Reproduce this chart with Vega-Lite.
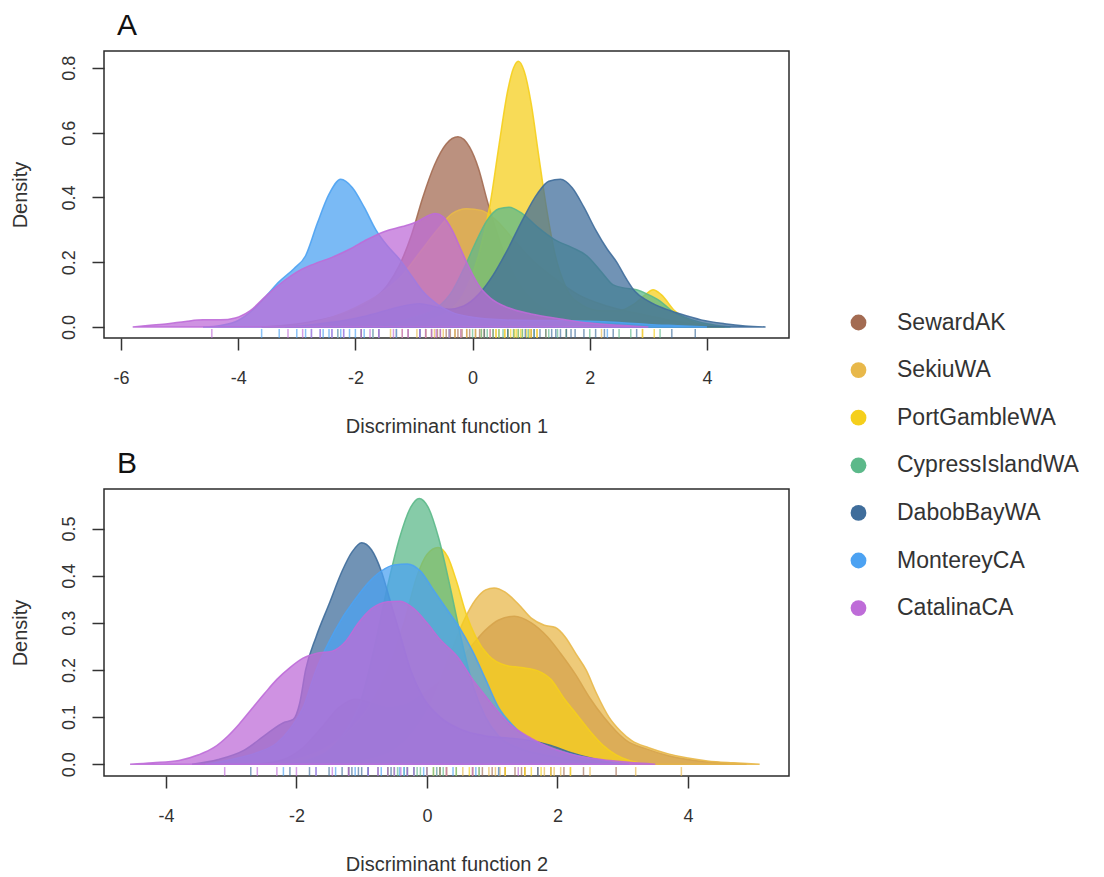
{
  "$schema": "https://vega.github.io/schema/vega-lite/v6.json",
  "padding": {"left": 9, "top": 10, "right": 0, "bottom": 0},
  "background": "white",
  "config": {
    "font": "Liberation Sans",
    "view": {"stroke": "#2b2b2b", "strokeWidth": 1.5},
    "axis": {
      "domain": false, "grid": false, "tickSize": 12, "tickColor": "#333333", "tickWidth": 1.5,
      "labelFontSize": 18, "labelColor": "#333333", "titleFontSize": 20, "titleFontWeight": "normal", "titleColor": "#333333"
    },
    "axisX": {"labelPadding": 19, "titlePadding": 29, "labelExpr": "'' + datum.value"},
    "axisY": {"labelAngle": -90, "labelPadding": 14, "titlePadding": 30},
    "title": {"fontSize": 30, "fontWeight": "normal", "color": "#111111", "anchor": "start", "frame": "group", "offset": 10, "dx": 13}
  },
  "datasets": {
    "densA": [
      {"group":"SewardAK","x":-3.6,"density":0},{"group":"SewardAK","x":-3.2,"density":0.005},{"group":"SewardAK","x":-2.8,"density":0.015},{"group":"SewardAK","x":-2.4,"density":0.03},{"group":"SewardAK","x":-2.0,"density":0.055},{"group":"SewardAK","x":-1.7,"density":0.085},{"group":"SewardAK","x":-1.45,"density":0.13},{"group":"SewardAK","x":-1.25,"density":0.19},{"group":"SewardAK","x":-1.05,"density":0.28},{"group":"SewardAK","x":-0.85,"density":0.4},{"group":"SewardAK","x":-0.65,"density":0.5},{"group":"SewardAK","x":-0.45,"density":0.565},{"group":"SewardAK","x":-0.25,"density":0.587},{"group":"SewardAK","x":-0.05,"density":0.555},{"group":"SewardAK","x":0.1,"density":0.49},{"group":"SewardAK","x":0.25,"density":0.39},{"group":"SewardAK","x":0.4,"density":0.3},{"group":"SewardAK","x":0.6,"density":0.2},{"group":"SewardAK","x":0.8,"density":0.13},{"group":"SewardAK","x":1.0,"density":0.085},{"group":"SewardAK","x":1.3,"density":0.05},{"group":"SewardAK","x":1.7,"density":0.03},{"group":"SewardAK","x":2.1,"density":0.015},{"group":"SewardAK","x":2.6,"density":0.005},{"group":"SewardAK","x":3.1,"density":0},

      {"group":"SekiuWA","x":-3.2,"density":0},{"group":"SekiuWA","x":-2.8,"density":0.01},{"group":"SekiuWA","x":-2.4,"density":0.03},{"group":"SekiuWA","x":-2.0,"density":0.06},{"group":"SekiuWA","x":-1.6,"density":0.1},{"group":"SekiuWA","x":-1.2,"density":0.16},{"group":"SekiuWA","x":-0.9,"density":0.23},{"group":"SekiuWA","x":-0.6,"density":0.3},{"group":"SekiuWA","x":-0.35,"density":0.35},{"group":"SekiuWA","x":-0.1,"density":0.365},{"group":"SekiuWA","x":0.15,"density":0.36},{"group":"SekiuWA","x":0.4,"density":0.33},{"group":"SekiuWA","x":0.7,"density":0.27},{"group":"SekiuWA","x":1.0,"density":0.21},{"group":"SekiuWA","x":1.4,"density":0.15},{"group":"SekiuWA","x":1.8,"density":0.1},{"group":"SekiuWA","x":2.2,"density":0.07},{"group":"SekiuWA","x":2.6,"density":0.05},{"group":"SekiuWA","x":3.0,"density":0.035},{"group":"SekiuWA","x":3.4,"density":0.02},{"group":"SekiuWA","x":3.8,"density":0.008},{"group":"SekiuWA","x":4.3,"density":0},

      {"group":"PortGambleWA","x":-1.6,"density":0},{"group":"PortGambleWA","x":-1.2,"density":0.01},{"group":"PortGambleWA","x":-0.8,"density":0.02},{"group":"PortGambleWA","x":-0.4,"density":0.05},{"group":"PortGambleWA","x":-0.1,"density":0.12},{"group":"PortGambleWA","x":0.1,"density":0.22},{"group":"PortGambleWA","x":0.3,"density":0.38},{"group":"PortGambleWA","x":0.45,"density":0.56},{"group":"PortGambleWA","x":0.6,"density":0.73},{"group":"PortGambleWA","x":0.7,"density":0.8},{"group":"PortGambleWA","x":0.78,"density":0.82},{"group":"PortGambleWA","x":0.88,"density":0.79},{"group":"PortGambleWA","x":1.0,"density":0.69},{"group":"PortGambleWA","x":1.12,"density":0.54},{"group":"PortGambleWA","x":1.25,"density":0.38},{"group":"PortGambleWA","x":1.4,"density":0.23},{"group":"PortGambleWA","x":1.6,"density":0.12},{"group":"PortGambleWA","x":1.85,"density":0.07},{"group":"PortGambleWA","x":2.2,"density":0.05},{"group":"PortGambleWA","x":2.5,"density":0.05},{"group":"PortGambleWA","x":2.75,"density":0.07},{"group":"PortGambleWA","x":2.95,"density":0.1},{"group":"PortGambleWA","x":3.08,"density":0.115},{"group":"PortGambleWA","x":3.22,"density":0.1},{"group":"PortGambleWA","x":3.45,"density":0.05},{"group":"PortGambleWA","x":3.7,"density":0.02},{"group":"PortGambleWA","x":4.0,"density":0.005},{"group":"PortGambleWA","x":4.3,"density":0},

      {"group":"CypressIslandWA","x":-1.8,"density":0},{"group":"CypressIslandWA","x":-1.4,"density":0.01},{"group":"CypressIslandWA","x":-1.0,"density":0.03},{"group":"CypressIslandWA","x":-0.6,"density":0.06},{"group":"CypressIslandWA","x":-0.35,"density":0.11},{"group":"CypressIslandWA","x":-0.15,"density":0.18},{"group":"CypressIslandWA","x":0.05,"density":0.26},{"group":"CypressIslandWA","x":0.25,"density":0.33},{"group":"CypressIslandWA","x":0.45,"density":0.365},{"group":"CypressIslandWA","x":0.62,"density":0.37},{"group":"CypressIslandWA","x":0.85,"density":0.35},{"group":"CypressIslandWA","x":1.1,"density":0.31},{"group":"CypressIslandWA","x":1.4,"density":0.27},{"group":"CypressIslandWA","x":1.7,"density":0.245},{"group":"CypressIslandWA","x":1.95,"density":0.22},{"group":"CypressIslandWA","x":2.2,"density":0.17},{"group":"CypressIslandWA","x":2.4,"density":0.13},{"group":"CypressIslandWA","x":2.6,"density":0.12},{"group":"CypressIslandWA","x":2.8,"density":0.115},{"group":"CypressIslandWA","x":3.0,"density":0.1},{"group":"CypressIslandWA","x":3.2,"density":0.08},{"group":"CypressIslandWA","x":3.4,"density":0.05},{"group":"CypressIslandWA","x":3.7,"density":0.025},{"group":"CypressIslandWA","x":4.0,"density":0.01},{"group":"CypressIslandWA","x":4.4,"density":0},

      {"group":"DabobBayWA","x":-3.2,"density":0},{"group":"DabobBayWA","x":-2.7,"density":0.008},{"group":"DabobBayWA","x":-2.2,"density":0.02},{"group":"DabobBayWA","x":-1.8,"density":0.035},{"group":"DabobBayWA","x":-1.4,"density":0.055},{"group":"DabobBayWA","x":-1.1,"density":0.068},{"group":"DabobBayWA","x":-0.9,"density":0.072},{"group":"DabobBayWA","x":-0.65,"density":0.063},{"group":"DabobBayWA","x":-0.4,"density":0.055},{"group":"DabobBayWA","x":-0.15,"density":0.065},{"group":"DabobBayWA","x":0.1,"density":0.1},{"group":"DabobBayWA","x":0.35,"density":0.16},{"group":"DabobBayWA","x":0.6,"density":0.24},{"group":"DabobBayWA","x":0.85,"density":0.33},{"group":"DabobBayWA","x":1.1,"density":0.41},{"group":"DabobBayWA","x":1.3,"density":0.45},{"group":"DabobBayWA","x":1.5,"density":0.456},{"group":"DabobBayWA","x":1.7,"density":0.43},{"group":"DabobBayWA","x":1.9,"density":0.37},{"group":"DabobBayWA","x":2.1,"density":0.3},{"group":"DabobBayWA","x":2.3,"density":0.24},{"group":"DabobBayWA","x":2.46,"density":0.2},{"group":"DabobBayWA","x":2.62,"density":0.15},{"group":"DabobBayWA","x":2.77,"density":0.11},{"group":"DabobBayWA","x":3.0,"density":0.08},{"group":"DabobBayWA","x":3.3,"density":0.055},{"group":"DabobBayWA","x":3.55,"density":0.04},{"group":"DabobBayWA","x":3.9,"density":0.022},{"group":"DabobBayWA","x":4.3,"density":0.01},{"group":"DabobBayWA","x":4.65,"density":0.003},{"group":"DabobBayWA","x":5.0,"density":0},

      {"group":"MontereyCA","x":-4.6,"density":0},{"group":"MontereyCA","x":-4.3,"density":0.005},{"group":"MontereyCA","x":-4.0,"density":0.02},{"group":"MontereyCA","x":-3.8,"density":0.045},{"group":"MontereyCA","x":-3.55,"density":0.09},{"group":"MontereyCA","x":-3.3,"density":0.14},{"group":"MontereyCA","x":-3.05,"density":0.18},{"group":"MontereyCA","x":-2.85,"density":0.22},{"group":"MontereyCA","x":-2.65,"density":0.32},{"group":"MontereyCA","x":-2.45,"density":0.41},{"group":"MontereyCA","x":-2.25,"density":0.456},{"group":"MontereyCA","x":-2.05,"density":0.43},{"group":"MontereyCA","x":-1.85,"density":0.37},{"group":"MontereyCA","x":-1.65,"density":0.3},{"group":"MontereyCA","x":-1.45,"density":0.25},{"group":"MontereyCA","x":-1.25,"density":0.21},{"group":"MontereyCA","x":-1.05,"density":0.16},{"group":"MontereyCA","x":-0.85,"density":0.11},{"group":"MontereyCA","x":-0.6,"density":0.07},{"group":"MontereyCA","x":-0.35,"density":0.045},{"group":"MontereyCA","x":0.0,"density":0.03},{"group":"MontereyCA","x":0.5,"density":0.022},{"group":"MontereyCA","x":1.0,"density":0.02},{"group":"MontereyCA","x":1.5,"density":0.02},{"group":"MontereyCA","x":2.0,"density":0.018},{"group":"MontereyCA","x":2.5,"density":0.014},{"group":"MontereyCA","x":3.0,"density":0.008},{"group":"MontereyCA","x":3.5,"density":0.004},{"group":"MontereyCA","x":4.0,"density":0},

      {"group":"CatalinaCA","x":-5.8,"density":0},{"group":"CatalinaCA","x":-5.5,"density":0.005},{"group":"CatalinaCA","x":-5.2,"density":0.01},{"group":"CatalinaCA","x":-4.9,"density":0.017},{"group":"CatalinaCA","x":-4.6,"density":0.022},{"group":"CatalinaCA","x":-4.3,"density":0.022},{"group":"CatalinaCA","x":-4.05,"density":0.028},{"group":"CatalinaCA","x":-3.8,"density":0.05},{"group":"CatalinaCA","x":-3.5,"density":0.1},{"group":"CatalinaCA","x":-3.2,"density":0.145},{"group":"CatalinaCA","x":-2.95,"density":0.175},{"group":"CatalinaCA","x":-2.7,"density":0.195},{"group":"CatalinaCA","x":-2.4,"density":0.215},{"group":"CatalinaCA","x":-2.1,"density":0.24},{"group":"CatalinaCA","x":-1.8,"density":0.27},{"group":"CatalinaCA","x":-1.5,"density":0.295},{"group":"CatalinaCA","x":-1.2,"density":0.31},{"group":"CatalinaCA","x":-0.95,"density":0.325},{"group":"CatalinaCA","x":-0.8,"density":0.34},{"group":"CatalinaCA","x":-0.64,"density":0.35},{"group":"CatalinaCA","x":-0.5,"density":0.34},{"group":"CatalinaCA","x":-0.35,"density":0.3},{"group":"CatalinaCA","x":-0.2,"density":0.24},{"group":"CatalinaCA","x":-0.05,"density":0.18},{"group":"CatalinaCA","x":0.1,"density":0.13},{"group":"CatalinaCA","x":0.3,"density":0.09},{"group":"CatalinaCA","x":0.6,"density":0.06},{"group":"CatalinaCA","x":1.0,"density":0.04},{"group":"CatalinaCA","x":1.5,"density":0.025},{"group":"CatalinaCA","x":2.0,"density":0.012},{"group":"CatalinaCA","x":2.5,"density":0.005},{"group":"CatalinaCA","x":3.0,"density":0}
    ],
    "densB": [
      {"group":"SewardAK","x":-2.6,"density":0},{"group":"SewardAK","x":-2.2,"density":0.01},{"group":"SewardAK","x":-1.9,"density":0.035},{"group":"SewardAK","x":-1.6,"density":0.08},{"group":"SewardAK","x":-1.35,"density":0.12},{"group":"SewardAK","x":-1.1,"density":0.138},{"group":"SewardAK","x":-0.85,"density":0.13},{"group":"SewardAK","x":-0.6,"density":0.12},{"group":"SewardAK","x":-0.35,"density":0.125},{"group":"SewardAK","x":-0.1,"density":0.145},{"group":"SewardAK","x":0.15,"density":0.17},{"group":"SewardAK","x":0.4,"density":0.2},{"group":"SewardAK","x":0.65,"density":0.245},{"group":"SewardAK","x":0.9,"density":0.285},{"group":"SewardAK","x":1.1,"density":0.306},{"group":"SewardAK","x":1.34,"density":0.314},{"group":"SewardAK","x":1.6,"density":0.3},{"group":"SewardAK","x":1.85,"density":0.27},{"group":"SewardAK","x":2.05,"density":0.235},{"group":"SewardAK","x":2.28,"density":0.19},{"group":"SewardAK","x":2.5,"density":0.14},{"group":"SewardAK","x":2.71,"density":0.1},{"group":"SewardAK","x":2.9,"density":0.07},{"group":"SewardAK","x":3.06,"density":0.05},{"group":"SewardAK","x":3.35,"density":0.033},{"group":"SewardAK","x":3.7,"density":0.018},{"group":"SewardAK","x":4.1,"density":0.008},{"group":"SewardAK","x":4.5,"density":0.003},{"group":"SewardAK","x":4.9,"density":0},

      {"group":"SekiuWA","x":-1.3,"density":0},{"group":"SekiuWA","x":-0.9,"density":0.01},{"group":"SekiuWA","x":-0.5,"density":0.03},{"group":"SekiuWA","x":-0.2,"density":0.07},{"group":"SekiuWA","x":0.1,"density":0.14},{"group":"SekiuWA","x":0.35,"density":0.23},{"group":"SekiuWA","x":0.55,"density":0.3},{"group":"SekiuWA","x":0.75,"density":0.35},{"group":"SekiuWA","x":0.9,"density":0.37},{"group":"SekiuWA","x":1.03,"density":0.374},{"group":"SekiuWA","x":1.2,"density":0.365},{"group":"SekiuWA","x":1.4,"density":0.34},{"group":"SekiuWA","x":1.6,"density":0.31},{"group":"SekiuWA","x":1.8,"density":0.295},{"group":"SekiuWA","x":1.97,"density":0.29},{"group":"SekiuWA","x":2.12,"density":0.27},{"group":"SekiuWA","x":2.28,"density":0.235},{"group":"SekiuWA","x":2.44,"density":0.2},{"group":"SekiuWA","x":2.6,"density":0.15},{"group":"SekiuWA","x":2.79,"density":0.1},{"group":"SekiuWA","x":2.97,"density":0.07},{"group":"SekiuWA","x":3.14,"density":0.05},{"group":"SekiuWA","x":3.4,"density":0.035},{"group":"SekiuWA","x":3.7,"density":0.022},{"group":"SekiuWA","x":4.0,"density":0.013},{"group":"SekiuWA","x":4.3,"density":0.007},{"group":"SekiuWA","x":4.7,"density":0.003},{"group":"SekiuWA","x":5.1,"density":0},

      {"group":"PortGambleWA","x":-2.4,"density":0},{"group":"PortGambleWA","x":-2.0,"density":0.01},{"group":"PortGambleWA","x":-1.6,"density":0.03},{"group":"PortGambleWA","x":-1.2,"density":0.07},{"group":"PortGambleWA","x":-0.9,"density":0.12},{"group":"PortGambleWA","x":-0.6,"density":0.2},{"group":"PortGambleWA","x":-0.35,"density":0.3},{"group":"PortGambleWA","x":-0.15,"density":0.4},{"group":"PortGambleWA","x":0.0,"density":0.445},{"group":"PortGambleWA","x":0.17,"density":0.46},{"group":"PortGambleWA","x":0.32,"density":0.44},{"group":"PortGambleWA","x":0.45,"density":0.39},{"group":"PortGambleWA","x":0.6,"density":0.32},{"group":"PortGambleWA","x":0.75,"density":0.27},{"group":"PortGambleWA","x":0.95,"density":0.23},{"group":"PortGambleWA","x":1.2,"density":0.21},{"group":"PortGambleWA","x":1.45,"density":0.205},{"group":"PortGambleWA","x":1.7,"density":0.198},{"group":"PortGambleWA","x":1.9,"density":0.18},{"group":"PortGambleWA","x":2.1,"density":0.14},{"group":"PortGambleWA","x":2.3,"density":0.105},{"group":"PortGambleWA","x":2.5,"density":0.07},{"group":"PortGambleWA","x":2.7,"density":0.04},{"group":"PortGambleWA","x":2.9,"density":0.02},{"group":"PortGambleWA","x":3.1,"density":0.008},{"group":"PortGambleWA","x":3.4,"density":0},

      {"group":"CypressIslandWA","x":-2.2,"density":0},{"group":"CypressIslandWA","x":-1.8,"density":0.01},{"group":"CypressIslandWA","x":-1.5,"density":0.03},{"group":"CypressIslandWA","x":-1.25,"density":0.07},{"group":"CypressIslandWA","x":-1.0,"density":0.14},{"group":"CypressIslandWA","x":-0.8,"density":0.25},{"group":"CypressIslandWA","x":-0.6,"density":0.38},{"group":"CypressIslandWA","x":-0.42,"density":0.48},{"group":"CypressIslandWA","x":-0.25,"density":0.545},{"group":"CypressIslandWA","x":-0.12,"density":0.564},{"group":"CypressIslandWA","x":0.02,"density":0.545},{"group":"CypressIslandWA","x":0.18,"density":0.48},{"group":"CypressIslandWA","x":0.35,"density":0.38},{"group":"CypressIslandWA","x":0.52,"density":0.27},{"group":"CypressIslandWA","x":0.7,"density":0.17},{"group":"CypressIslandWA","x":0.9,"density":0.1},{"group":"CypressIslandWA","x":1.1,"density":0.06},{"group":"CypressIslandWA","x":1.4,"density":0.035},{"group":"CypressIslandWA","x":1.8,"density":0.02},{"group":"CypressIslandWA","x":2.2,"density":0.01},{"group":"CypressIslandWA","x":2.7,"density":0},

      {"group":"DabobBayWA","x":-3.6,"density":0},{"group":"DabobBayWA","x":-3.2,"density":0.01},{"group":"DabobBayWA","x":-2.8,"density":0.03},{"group":"DabobBayWA","x":-2.45,"density":0.065},{"group":"DabobBayWA","x":-2.2,"density":0.088},{"group":"DabobBayWA","x":-2.05,"density":0.095},{"group":"DabobBayWA","x":-1.95,"density":0.13},{"group":"DabobBayWA","x":-1.86,"density":0.2},{"group":"DabobBayWA","x":-1.7,"density":0.27},{"group":"DabobBayWA","x":-1.5,"density":0.34},{"group":"DabobBayWA","x":-1.3,"density":0.41},{"group":"DabobBayWA","x":-1.15,"density":0.45},{"group":"DabobBayWA","x":-1.0,"density":0.47},{"group":"DabobBayWA","x":-0.85,"density":0.455},{"group":"DabobBayWA","x":-0.7,"density":0.41},{"group":"DabobBayWA","x":-0.55,"density":0.34},{"group":"DabobBayWA","x":-0.4,"density":0.27},{"group":"DabobBayWA","x":-0.25,"density":0.2},{"group":"DabobBayWA","x":-0.05,"density":0.14},{"group":"DabobBayWA","x":0.2,"density":0.1},{"group":"DabobBayWA","x":0.5,"density":0.075},{"group":"DabobBayWA","x":0.9,"density":0.06},{"group":"DabobBayWA","x":1.3,"density":0.055},{"group":"DabobBayWA","x":1.6,"density":0.05},{"group":"DabobBayWA","x":1.9,"density":0.04},{"group":"DabobBayWA","x":2.2,"density":0.025},{"group":"DabobBayWA","x":2.6,"density":0.01},{"group":"DabobBayWA","x":3.0,"density":0},

      {"group":"MontereyCA","x":-3.4,"density":0},{"group":"MontereyCA","x":-3.0,"density":0.01},{"group":"MontereyCA","x":-2.6,"density":0.025},{"group":"MontereyCA","x":-2.3,"density":0.045},{"group":"MontereyCA","x":-2.1,"density":0.075},{"group":"MontereyCA","x":-1.9,"density":0.12},{"group":"MontereyCA","x":-1.7,"density":0.2},{"group":"MontereyCA","x":-1.5,"density":0.26},{"group":"MontereyCA","x":-1.3,"density":0.31},{"group":"MontereyCA","x":-1.1,"density":0.35},{"group":"MontereyCA","x":-0.9,"density":0.385},{"group":"MontereyCA","x":-0.7,"density":0.41},{"group":"MontereyCA","x":-0.5,"density":0.423},{"group":"MontereyCA","x":-0.3,"density":0.425},{"group":"MontereyCA","x":-0.1,"density":0.41},{"group":"MontereyCA","x":0.1,"density":0.37},{"group":"MontereyCA","x":0.3,"density":0.33},{"group":"MontereyCA","x":0.5,"density":0.29},{"group":"MontereyCA","x":0.7,"density":0.24},{"group":"MontereyCA","x":0.9,"density":0.18},{"group":"MontereyCA","x":1.1,"density":0.12},{"group":"MontereyCA","x":1.3,"density":0.085},{"group":"MontereyCA","x":1.5,"density":0.06},{"group":"MontereyCA","x":1.8,"density":0.04},{"group":"MontereyCA","x":2.2,"density":0.022},{"group":"MontereyCA","x":2.6,"density":0.01},{"group":"MontereyCA","x":3.1,"density":0},

      {"group":"CatalinaCA","x":-4.55,"density":0},{"group":"CatalinaCA","x":-4.2,"density":0.003},{"group":"CatalinaCA","x":-3.8,"density":0.008},{"group":"CatalinaCA","x":-3.5,"density":0.02},{"group":"CatalinaCA","x":-3.27,"density":0.035},{"group":"CatalinaCA","x":-3.05,"density":0.06},{"group":"CatalinaCA","x":-2.88,"density":0.085},{"group":"CatalinaCA","x":-2.7,"density":0.115},{"group":"CatalinaCA","x":-2.49,"density":0.15},{"group":"CatalinaCA","x":-2.3,"density":0.18},{"group":"CatalinaCA","x":-2.1,"density":0.205},{"group":"CatalinaCA","x":-1.9,"density":0.225},{"group":"CatalinaCA","x":-1.7,"density":0.235},{"group":"CatalinaCA","x":-1.45,"density":0.24},{"group":"CatalinaCA","x":-1.25,"density":0.26},{"group":"CatalinaCA","x":-1.05,"density":0.3},{"group":"CatalinaCA","x":-0.85,"density":0.33},{"group":"CatalinaCA","x":-0.6,"density":0.345},{"group":"CatalinaCA","x":-0.41,"density":0.346},{"group":"CatalinaCA","x":-0.2,"density":0.33},{"group":"CatalinaCA","x":0.0,"density":0.3},{"group":"CatalinaCA","x":0.2,"density":0.265},{"group":"CatalinaCA","x":0.48,"density":0.226},{"group":"CatalinaCA","x":0.7,"density":0.18},{"group":"CatalinaCA","x":0.88,"density":0.148},{"group":"CatalinaCA","x":1.1,"density":0.11},{"group":"CatalinaCA","x":1.27,"density":0.085},{"group":"CatalinaCA","x":1.6,"density":0.055},{"group":"CatalinaCA","x":1.9,"density":0.035},{"group":"CatalinaCA","x":2.3,"density":0.018},{"group":"CatalinaCA","x":2.67,"density":0.01},{"group":"CatalinaCA","x":3.1,"density":0.004},{"group":"CatalinaCA","x":3.5,"density":0}
    ],
    "rugA": [
      {"group":"SewardAK","x":-1.6},{"group":"SewardAK","x":-1.3},{"group":"SewardAK","x":-1.1},{"group":"SewardAK","x":-0.9},{"group":"SewardAK","x":-0.8},{"group":"SewardAK","x":-0.7},{"group":"SewardAK","x":-0.6},{"group":"SewardAK","x":-0.55},{"group":"SewardAK","x":-0.45},{"group":"SewardAK","x":-0.38},{"group":"SewardAK","x":-0.3},{"group":"SewardAK","x":-0.25},{"group":"SewardAK","x":-0.18},{"group":"SewardAK","x":-0.1},{"group":"SewardAK","x":-0.05},{"group":"SewardAK","x":0.05},{"group":"SewardAK","x":0.12},{"group":"SewardAK","x":0.2},{"group":"SewardAK","x":0.35},{"group":"SewardAK","x":0.6},{"group":"SewardAK","x":1.0},
      {"group":"SekiuWA","x":-2.3},{"group":"SekiuWA","x":-1.9},{"group":"SekiuWA","x":-1.7},{"group":"SekiuWA","x":-1.4},{"group":"SekiuWA","x":-1.2},{"group":"SekiuWA","x":-0.95},{"group":"SekiuWA","x":-0.8},{"group":"SekiuWA","x":-0.65},{"group":"SekiuWA","x":-0.5},{"group":"SekiuWA","x":-0.3},{"group":"SekiuWA","x":-0.2},{"group":"SekiuWA","x":-0.1},{"group":"SekiuWA","x":0.05},{"group":"SekiuWA","x":0.15},{"group":"SekiuWA","x":0.2},{"group":"SekiuWA","x":0.4},{"group":"SekiuWA","x":0.55},{"group":"SekiuWA","x":0.7},{"group":"SekiuWA","x":1.1},{"group":"SekiuWA","x":1.6},{"group":"SekiuWA","x":2.2},{"group":"SekiuWA","x":2.9},
      {"group":"PortGambleWA","x":0.3},{"group":"PortGambleWA","x":0.4},{"group":"PortGambleWA","x":0.45},{"group":"PortGambleWA","x":0.55},{"group":"PortGambleWA","x":0.6},{"group":"PortGambleWA","x":0.65},{"group":"PortGambleWA","x":0.72},{"group":"PortGambleWA","x":0.75},{"group":"PortGambleWA","x":0.78},{"group":"PortGambleWA","x":0.82},{"group":"PortGambleWA","x":0.85},{"group":"PortGambleWA","x":0.92},{"group":"PortGambleWA","x":0.97},{"group":"PortGambleWA","x":1.0},{"group":"PortGambleWA","x":1.1},{"group":"PortGambleWA","x":1.25},{"group":"PortGambleWA","x":2.9},{"group":"PortGambleWA","x":3.1},
      {"group":"CypressIslandWA","x":-0.4},{"group":"CypressIslandWA","x":0.0},{"group":"CypressIslandWA","x":0.15},{"group":"CypressIslandWA","x":0.25},{"group":"CypressIslandWA","x":0.35},{"group":"CypressIslandWA","x":0.45},{"group":"CypressIslandWA","x":0.52},{"group":"CypressIslandWA","x":0.6},{"group":"CypressIslandWA","x":0.7},{"group":"CypressIslandWA","x":0.78},{"group":"CypressIslandWA","x":0.85},{"group":"CypressIslandWA","x":0.95},{"group":"CypressIslandWA","x":1.05},{"group":"CypressIslandWA","x":1.3},{"group":"CypressIslandWA","x":1.45},{"group":"CypressIslandWA","x":1.6},{"group":"CypressIslandWA","x":2.0},{"group":"CypressIslandWA","x":2.5},{"group":"CypressIslandWA","x":2.7},{"group":"CypressIslandWA","x":3.2},
      {"group":"DabobBayWA","x":-1.9},{"group":"DabobBayWA","x":-0.9},{"group":"DabobBayWA","x":0.2},{"group":"DabobBayWA","x":0.6},{"group":"DabobBayWA","x":0.9},{"group":"DabobBayWA","x":1.05},{"group":"DabobBayWA","x":1.15},{"group":"DabobBayWA","x":1.25},{"group":"DabobBayWA","x":1.35},{"group":"DabobBayWA","x":1.42},{"group":"DabobBayWA","x":1.5},{"group":"DabobBayWA","x":1.6},{"group":"DabobBayWA","x":1.68},{"group":"DabobBayWA","x":1.75},{"group":"DabobBayWA","x":1.9},{"group":"DabobBayWA","x":2.1},{"group":"DabobBayWA","x":2.25},{"group":"DabobBayWA","x":2.4},{"group":"DabobBayWA","x":2.8},{"group":"DabobBayWA","x":3.4},{"group":"DabobBayWA","x":3.8},
      {"group":"MontereyCA","x":-3.6},{"group":"MontereyCA","x":-3.3},{"group":"MontereyCA","x":-3.0},{"group":"MontereyCA","x":-2.85},{"group":"MontereyCA","x":-2.75},{"group":"MontereyCA","x":-2.6},{"group":"MontereyCA","x":-2.55},{"group":"MontereyCA","x":-2.45},{"group":"MontereyCA","x":-2.4},{"group":"MontereyCA","x":-2.3},{"group":"MontereyCA","x":-2.25},{"group":"MontereyCA","x":-2.2},{"group":"MontereyCA","x":-2.1},{"group":"MontereyCA","x":-2.0},{"group":"MontereyCA","x":-1.85},{"group":"MontereyCA","x":-1.7},{"group":"MontereyCA","x":-1.6},{"group":"MontereyCA","x":-1.3},{"group":"MontereyCA","x":-0.9},{"group":"MontereyCA","x":2.3},
      {"group":"CatalinaCA","x":-4.45},{"group":"CatalinaCA","x":-3.15},{"group":"CatalinaCA","x":-2.9},{"group":"CatalinaCA","x":-2.75},{"group":"CatalinaCA","x":-2.6},{"group":"CatalinaCA","x":-2.4},{"group":"CatalinaCA","x":-2.2},{"group":"CatalinaCA","x":-1.9},{"group":"CatalinaCA","x":-1.75},{"group":"CatalinaCA","x":-1.6},{"group":"CatalinaCA","x":-1.35},{"group":"CatalinaCA","x":-1.2},{"group":"CatalinaCA","x":-1.1},{"group":"CatalinaCA","x":-0.9},{"group":"CatalinaCA","x":-0.8},{"group":"CatalinaCA","x":-0.7},{"group":"CatalinaCA","x":-0.62},{"group":"CatalinaCA","x":-0.55},{"group":"CatalinaCA","x":-0.4},{"group":"CatalinaCA","x":-0.2},{"group":"CatalinaCA","x":0.3}
    ],
    "rugB": [
      {"group":"SewardAK","x":-1.2},{"group":"SewardAK","x":-0.6},{"group":"SewardAK","x":0.3},{"group":"SewardAK","x":0.7},{"group":"SewardAK","x":0.85},{"group":"SewardAK","x":1.0},{"group":"SewardAK","x":1.1},{"group":"SewardAK","x":1.2},{"group":"SewardAK","x":1.35},{"group":"SewardAK","x":1.45},{"group":"SewardAK","x":1.5},{"group":"SewardAK","x":1.7},{"group":"SewardAK","x":1.9},{"group":"SewardAK","x":2.1},{"group":"SewardAK","x":2.4},{"group":"SewardAK","x":2.9},
      {"group":"SekiuWA","x":0.2},{"group":"SekiuWA","x":0.55},{"group":"SekiuWA","x":0.7},{"group":"SekiuWA","x":0.8},{"group":"SekiuWA","x":0.95},{"group":"SekiuWA","x":1.05},{"group":"SekiuWA","x":1.12},{"group":"SekiuWA","x":1.2},{"group":"SekiuWA","x":1.5},{"group":"SekiuWA","x":1.8},{"group":"SekiuWA","x":1.95},{"group":"SekiuWA","x":2.05},{"group":"SekiuWA","x":2.2},{"group":"SekiuWA","x":2.5},{"group":"SekiuWA","x":3.2},{"group":"SekiuWA","x":3.9},
      {"group":"PortGambleWA","x":-0.5},{"group":"PortGambleWA","x":-0.2},{"group":"PortGambleWA","x":0.0},{"group":"PortGambleWA","x":0.1},{"group":"PortGambleWA","x":0.15},{"group":"PortGambleWA","x":0.2},{"group":"PortGambleWA","x":0.3},{"group":"PortGambleWA","x":0.45},{"group":"PortGambleWA","x":0.65},{"group":"PortGambleWA","x":1.2},{"group":"PortGambleWA","x":1.5},{"group":"PortGambleWA","x":1.6},{"group":"PortGambleWA","x":1.75},{"group":"PortGambleWA","x":1.9},{"group":"PortGambleWA","x":2.2},
      {"group":"CypressIslandWA","x":-0.9},{"group":"CypressIslandWA","x":-0.6},{"group":"CypressIslandWA","x":-0.45},{"group":"CypressIslandWA","x":-0.35},{"group":"CypressIslandWA","x":-0.3},{"group":"CypressIslandWA","x":-0.2},{"group":"CypressIslandWA","x":-0.15},{"group":"CypressIslandWA","x":-0.1},{"group":"CypressIslandWA","x":0.0},{"group":"CypressIslandWA","x":0.1},{"group":"CypressIslandWA","x":0.25},{"group":"CypressIslandWA","x":0.45},{"group":"CypressIslandWA","x":0.8},
      {"group":"DabobBayWA","x":-2.7},{"group":"DabobBayWA","x":-2.1},{"group":"DabobBayWA","x":-1.8},{"group":"DabobBayWA","x":-1.5},{"group":"DabobBayWA","x":-1.3},{"group":"DabobBayWA","x":-1.2},{"group":"DabobBayWA","x":-1.15},{"group":"DabobBayWA","x":-1.05},{"group":"DabobBayWA","x":-1.0},{"group":"DabobBayWA","x":-0.9},{"group":"DabobBayWA","x":-0.75},{"group":"DabobBayWA","x":-0.55},{"group":"DabobBayWA","x":-0.3},{"group":"DabobBayWA","x":0.2},{"group":"DabobBayWA","x":1.7},
      {"group":"MontereyCA","x":-2.2},{"group":"MontereyCA","x":-1.7},{"group":"MontereyCA","x":-1.4},{"group":"MontereyCA","x":-1.1},{"group":"MontereyCA","x":-0.9},{"group":"MontereyCA","x":-0.7},{"group":"MontereyCA","x":-0.5},{"group":"MontereyCA","x":-0.42},{"group":"MontereyCA","x":-0.35},{"group":"MontereyCA","x":-0.2},{"group":"MontereyCA","x":-0.05},{"group":"MontereyCA","x":0.15},{"group":"MontereyCA","x":0.4},{"group":"MontereyCA","x":0.75},{"group":"MontereyCA","x":1.1},
      {"group":"CatalinaCA","x":-3.1},{"group":"CatalinaCA","x":-2.6},{"group":"CatalinaCA","x":-2.3},{"group":"CatalinaCA","x":-2.0},{"group":"CatalinaCA","x":-1.7},{"group":"CatalinaCA","x":-1.45},{"group":"CatalinaCA","x":-1.2},{"group":"CatalinaCA","x":-0.9},{"group":"CatalinaCA","x":-0.75},{"group":"CatalinaCA","x":-0.6},{"group":"CatalinaCA","x":-0.5},{"group":"CatalinaCA","x":-0.4},{"group":"CatalinaCA","x":-0.3},{"group":"CatalinaCA","x":-0.2},{"group":"CatalinaCA","x":0.0},{"group":"CatalinaCA","x":0.3},{"group":"CatalinaCA","x":0.7},{"group":"CatalinaCA","x":1.4}
    ]
  },
  "spacing": 11,
  "vconcat": [
    {
      "title": {"text": "A"},
      "width": 685, "height": 287,
      "layer": [
        {
          "data": {"name": "densA"},
          "mark": {"type": "area", "interpolate": "monotone", "fillOpacity": 0.74, "strokeWidth": 1.5, "strokeOpacity": 0.9},
          "encoding": {
            "x": {"field": "x", "type": "quantitative", "scale": {"domain": [-6.29, 5.4], "nice": false, "zero": false}, "axis": {"title": "Discriminant function 1", "values": [-6, -4, -2, 0, 2, 4]}},
            "y": {"field": "density", "type": "quantitative", "stack": null, "scale": {"domain": [-0.034, 0.852], "nice": false, "zero": false}, "axis": {"title": "Density", "values": [0, 0.2, 0.4, 0.6, 0.8], "format": ".1f"}},
            "color": {"field": "group", "type": "nominal", "scale": {"domain": ["SewardAK", "SekiuWA", "PortGambleWA", "CypressIslandWA", "DabobBayWA", "MontereyCA", "CatalinaCA"], "range": ["#A36B52", "#E8B84A", "#F5CF1C", "#5CB98A", "#3F6D9B", "#4CA2F2", "#BE6CD8"]},
              "legend": {"title": null, "orient": "none", "legendX": 743, "legendY": 260, "symbolType": "circle", "symbolSize": 250, "symbolOpacity": 1, "symbolStrokeWidth": 0, "labelFontSize": 23, "labelColor": "#333333", "labelLimit": 400, "rowPadding": 23.6, "labelOffset": 27, "padding": 0}},
            "stroke": {"field": "group", "type": "nominal", "legend": null, "scale": {"domain": ["SewardAK", "SekiuWA", "PortGambleWA", "CypressIslandWA", "DabobBayWA", "MontereyCA", "CatalinaCA"], "range": ["#A36B52", "#E8B84A", "#F5CF1C", "#5CB98A", "#3F6D9B", "#4CA2F2", "#BE6CD8"]}}
          }
        },
        {
          "data": {"name": "rugA"},
          "mark": {"type": "rule", "strokeWidth": 1.5, "opacity": 0.65},
          "encoding": {
            "x": {"field": "x", "type": "quantitative"},
            "y": {"datum": -0.034},
            "y2": {"datum": -0.006},
            "stroke": {"field": "group", "type": "nominal", "legend": null}
          }
        }
      ]
    },
    {
      "title": {"text": "B"},
      "width": 685, "height": 287,
      "layer": [
        {
          "data": {"name": "densB"},
          "mark": {"type": "area", "interpolate": "monotone", "fillOpacity": 0.74, "strokeWidth": 1.5, "strokeOpacity": 0.9},
          "encoding": {
            "x": {"field": "x", "type": "quantitative", "scale": {"domain": [-4.95, 5.55], "nice": false, "zero": false}, "axis": {"title": "Discriminant function 2", "values": [-4, -2, 0, 2, 4]}},
            "y": {"field": "density", "type": "quantitative", "stack": null, "scale": {"domain": [-0.025, 0.584], "nice": false, "zero": false}, "axis": {"title": "Density", "values": [0, 0.1, 0.2, 0.3, 0.4, 0.5], "format": ".1f"}},
            "color": {"field": "group", "type": "nominal"},
            "stroke": {"field": "group", "type": "nominal", "legend": null}
          }
        },
        {
          "data": {"name": "rugB"},
          "mark": {"type": "rule", "strokeWidth": 1.5, "opacity": 0.65},
          "encoding": {
            "x": {"field": "x", "type": "quantitative"},
            "y": {"datum": -0.025},
            "y2": {"datum": -0.006},
            "stroke": {"field": "group", "type": "nominal", "legend": null}
          }
        }
      ]
    }
  ]
}
